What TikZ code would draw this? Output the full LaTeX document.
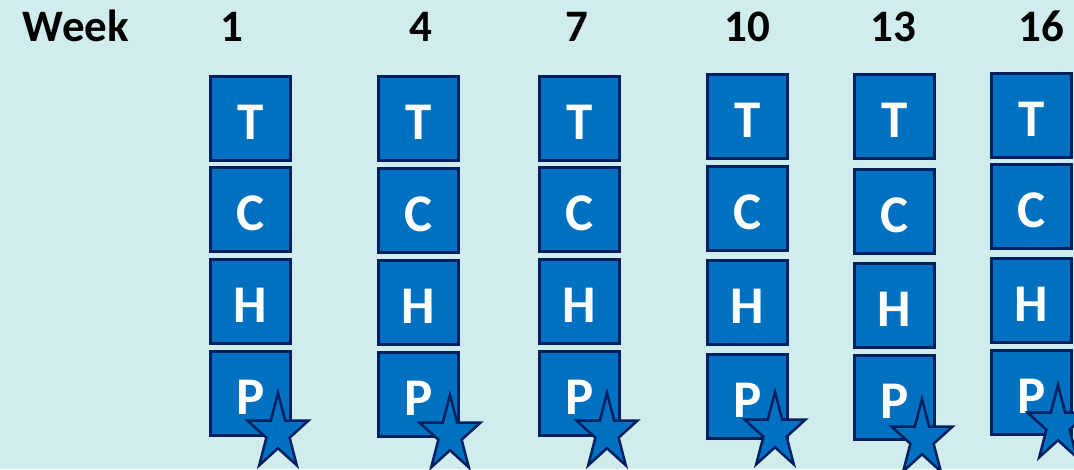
\documentclass[tikz,border=0pt]{standalone}
\usepackage{fontspec}
\setmainfont{Carlito}
\definecolor{bgc}{RGB}{208,236,236}
\definecolor{boxfill}{RGB}{0,112,192}
\definecolor{navy}{RGB}{0,32,96}
\tikzset{
  box/.style={draw=navy, line width=3pt, fill=boxfill, minimum width=80pt,
    minimum height=84pt, inner sep=0pt},
  lbl/.style={text=white, inner sep=0pt, font=\fontsize{53}{60}\selectfont\bfseries},
  head/.style={anchor=base, inner sep=0pt, font=\fontsize{45}{54}\selectfont\bfseries},
  starst/.style={draw=navy, line width=2.5pt, fill=boxfill, line join=miter}
}
\newcommand\weekstar[2]{%
  \draw[starst, shift={(#1,#2)}, xscale=32, yscale=-40]
    (90:1) -- (126:0.382) -- (162:1) -- (198:0.382) -- (234:1) -- (270:0.382)
    -- (306:1) -- (342:0.382) -- (18:1) -- (54:0.382) -- cycle;}
\begin{document}
\begin{tikzpicture}[x=1pt,y=-1pt]
\useasboundingbox (0,0) rectangle (1074,469);
\clip (0,0) rectangle (1074,469);
\fill[bgc] (0,0) rectangle (1074,469);
\node[head] (week) at (76,41) {Week};
\foreach \n/\x/\a/\b/\c/\d/\sx/\sy/\hx/\wk in {
  1/250.5/118/209.5/301.5/393.5/278/433/232/1,
  2/418.5/118.5/210/302/394/450/435/421/4,
  3/579.5/118/209/301/393/607/433/577/7,
  4/747.5/116.5/208/302/396.5/775/432/747/10,
  5/894.5/116.5/211.5/305/397/922/439/893/13,
  6/1031.5/115/206/300/392/1058/425/1041/16}{
  \node[head] (w\n) at (\hx,41) {\wk};
  \node[box, label={[lbl,yshift=-4pt]center:T}] (T\n) at (\x,\a) {};
  \node[box, label={[lbl,yshift=-4pt]center:C}] (C\n) at (\x,\b) {};
  \node[box, label={[lbl,yshift=-4pt]center:H}] (H\n) at (\x,\c) {};
  \node[box, label={[lbl,yshift=-4pt]center:P}] (P\n) at (\x,\d) {};
  \weekstar{\sx}{\sy}
}
\end{tikzpicture}
\end{document}
